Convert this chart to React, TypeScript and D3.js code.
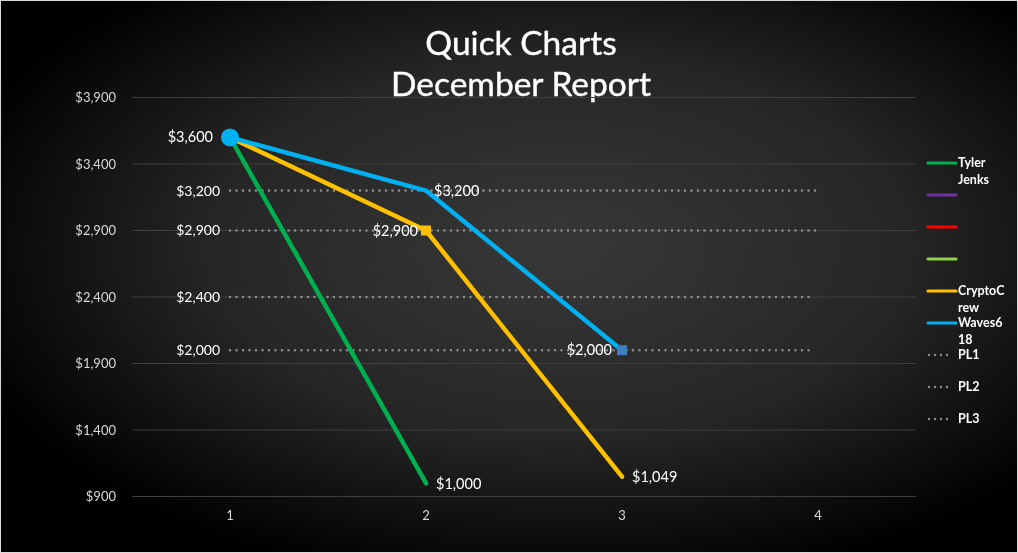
import React from "react";
import * as d3 from "d3";

const categories = [1, 2, 3, 4];
const yTicks = [900, 1400, 1900, 2400, 2900, 3400, 3900];
const tylerJenks = [3600, 1000];
const cryptoCrew = [3600, 2900, 1049];
const waves618 = [3600, 3200, 2000];
const plLevels = [3200, 2900, 2400, 2000];
const plEnds = [4, 4, 3.97, 3.97];

const legendItems = [
  { name: ["Tyler", "Jenks"], color: "#00B050", dotted: false },
  { name: [], color: "#7030A0", dotted: false },
  { name: [], color: "#FF0000", dotted: false },
  { name: [], color: "#92D050", dotted: false },
  { name: ["CryptoC", "rew"], color: "#FFC000", dotted: false },
  { name: ["Waves6", "18"], color: "#00B0F0", dotted: false },
  { name: ["PL1"], color: "#8c8c8c", dotted: true },
  { name: ["PL2"], color: "#8c8c8c", dotted: true },
  { name: ["PL3"], color: "#8c8c8c", dotted: true },
];
const legendY = [163, 195, 227, 259, 291, 323, 355, 387, 419];

const W = 1018;
const H = 553;
const FONT = "Lato, 'Open Sans', sans-serif";

export default function App() {
  const x = d3.scalePoint<number>().domain(categories).range([230, 818]);
  const y = d3.scaleLinear().domain([900, 3900]).range([496.5, 97.5]);
  const line = d3
    .line<number>()
    .x((_, i) => x(categories[i]) as number)
    .y((d) => y(d));

  const fmt = (v: number) => "$" + d3.format(",")(v);

  return (
    <div style={{ position: "fixed", left: 0, top: 0 }}>
      <svg width={W} height={H} style={{ display: "block" }} fontFamily={FONT}>
        <defs>
          <radialGradient id="bg" cx="55%" cy="45%" r="62%">
            <stop offset="0%" stopColor="#383838" />
            <stop offset="55%" stopColor="#262626" />
            <stop offset="100%" stopColor="#000" />
          </radialGradient>
        </defs>
        <rect x={0.5} y={0.5} width={W - 1} height={H - 1} fill="url(#bg)" stroke="#d9d9d9" strokeWidth={1} />

        {/* title */}
        <text x={521} y={55} textAnchor="middle" fill="#fff" fontSize={33.5} stroke="#fff" strokeWidth={0.4}>Quick Charts</text>
        <text x={521} y={96} textAnchor="middle" fill="#fff" fontSize={33.5} stroke="#fff" strokeWidth={0.4}>December Report</text>

        {/* gridlines and y axis */}
        {yTicks.map((t) => (
          <g key={t}>
            <line x1={132} x2={916} y1={y(t)} y2={y(t)} stroke="#3f3f3f" strokeWidth={1} />
            <text x={116} y={y(t)} dy="0.35em" textAnchor="end" fill="#d9d9d9" fontSize={13}>
              {fmt(t)}
            </text>
          </g>
        ))}
        {categories.map((c) => (
          <text key={c} x={x(c)} y={520} textAnchor="middle" fill="#d9d9d9" fontSize={13}>
            {c}
          </text>
        ))}

        {/* PL dotted lines */}
        {plLevels.map((v, i) => (
          <g key={v}>
            <line
              x1={x(1)}
              x2={(x(1) as number) + (plEnds[i] - 1) * 196}
              y1={y(v)}
              y2={y(v)}
              stroke="#8c8c8c"
              strokeWidth={2.6}
              strokeLinecap="round"
              strokeDasharray="0 6.5"
            />
            <text x={220} y={y(v)} dy="0.35em" textAnchor="end" fill="#fff" fontSize={14}>
              {fmt(v)}
            </text>
          </g>
        ))}

        {/* series */}
        <path d={line(tylerJenks) || ""} fill="none" stroke="#00B050" strokeWidth={4.5} strokeLinecap="round" strokeLinejoin="round" />
        <path d={line(cryptoCrew) || ""} fill="none" stroke="#FFC000" strokeWidth={4.5} strokeLinecap="round" strokeLinejoin="round" />
        <path d={line(waves618) || ""} fill="none" stroke="#00B0F0" strokeWidth={4.5} strokeLinecap="round" strokeLinejoin="round" />

        {/* markers */}
        <rect x={(x(2) as number) - 5} y={y(cryptoCrew[1]) - 5} width={10} height={10} fill="#FFC000" />
        <rect x={(x(3) as number) - 5} y={y(waves618[2]) - 5} width={10} height={10} fill="#3f7fbf" />
        <circle cx={x(1)} cy={y(waves618[0])} r={9} fill="#00B0F0" />

        {/* data labels */}
        <text x={213} y={y(3600)} dy="0.35em" textAnchor="end" fill="#fff" fontSize={14.5}>{fmt(waves618[0])}</text>
        <text x={434} y={y(waves618[1])} dy="0.35em" fill="#fff" fontSize={14.5}>{fmt(waves618[1])}</text>
        <text x={418} y={y(cryptoCrew[1])} dy="0.35em" textAnchor="end" fill="#fff" fontSize={14.5}>{fmt(cryptoCrew[1])}</text>
        <text x={612} y={y(waves618[2])} dy="0.35em" textAnchor="end" fill="#fff" fontSize={14.5}>{fmt(waves618[2])}</text>
        <text x={436} y={y(tylerJenks[1]) + 1} dy="0.35em" fill="#fff" fontSize={14.5}>{fmt(tylerJenks[1])}</text>
        <text x={632} y={y(cryptoCrew[2])} dy="0.35em" fill="#fff" fontSize={14.5}>{fmt(cryptoCrew[2])}</text>

        {/* legend */}
        {legendItems.map((it, i) => (
          <g key={i}>
            <line
              x1={it.dotted ? 929 : 928}
              x2={it.dotted ? 952 : 956}
              y1={legendY[i]}
              y2={legendY[i]}
              stroke={it.color}
              strokeWidth={it.dotted ? 2.4 : 3.2}
              strokeLinecap="round"
              strokeDasharray={it.dotted ? "0 6" : undefined}
            />
            {it.name.map((s, j) => (
              <text key={j} x={958} y={legendY[i] + j * 17} dy="0.35em" fill="#fff" fontSize={12.5} fontWeight="bold">
                {s}
              </text>
            ))}
          </g>
        ))}
      </svg>
    </div>
  );
}
